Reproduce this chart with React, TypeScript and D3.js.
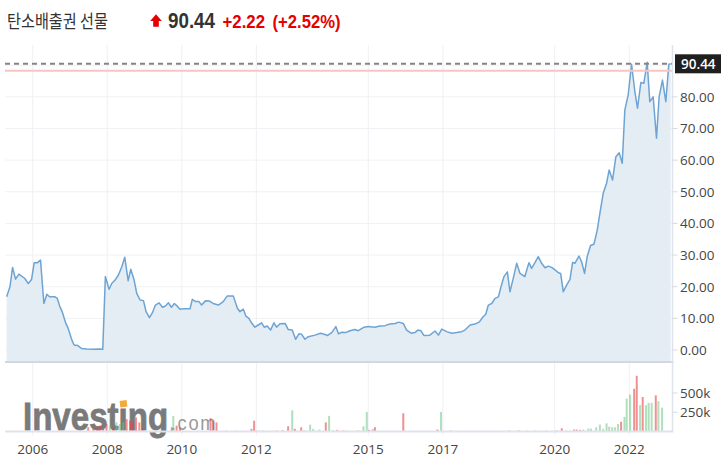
import React from 'react';
import * as d3 from 'd3';

// ---- data ----
const priceYears = [
  2005.30, 2005.39, 2005.46, 2005.54, 2005.63, 2005.79, 2005.88, 2005.97,
  2006.04, 2006.13, 2006.21, 2006.30, 2006.38, 2006.45, 2006.60, 2006.66, 2006.73, 2006.80, 2006.89, 2006.95,
  2007.05, 2007.11, 2007.21, 2007.31, 2007.45, 2007.60, 2007.80, 2007.88, 2007.95,
  2008.05, 2008.12, 2008.21, 2008.30, 2008.39, 2008.47, 2008.56, 2008.63, 2008.72, 2008.79, 2008.88, 2008.97,
  2009.04, 2009.13, 2009.21, 2009.29, 2009.39, 2009.48, 2009.56, 2009.64, 2009.72, 2009.80, 2009.89, 2009.95,
  2010.04, 2010.22, 2010.28, 2010.37, 2010.46, 2010.53, 2010.64, 2010.73, 2010.84, 2010.98,
  2011.11, 2011.22, 2011.38, 2011.49, 2011.56, 2011.65, 2011.72, 2011.80, 2011.87, 2011.96,
  2012.05, 2012.14, 2012.21, 2012.29, 2012.38, 2012.47, 2012.54, 2012.63, 2012.77, 2012.85, 2012.96,
  2013.05, 2013.14, 2013.21, 2013.30, 2013.39, 2013.57, 2013.72, 2013.82, 2013.91,
  2014.02, 2014.13, 2014.20, 2014.29, 2014.39, 2014.51, 2014.64, 2014.73, 2014.89,
  2015.00, 2015.18, 2015.31, 2015.45, 2015.58, 2015.72, 2015.82, 2015.94,
  2016.03, 2016.15, 2016.25, 2016.33, 2016.41, 2016.49, 2016.65, 2016.79, 2016.88, 2016.97,
  2017.10, 2017.24, 2017.37, 2017.50, 2017.59, 2017.73, 2017.86, 2017.98,
  2018.08, 2018.15, 2018.22, 2018.31, 2018.40, 2018.49, 2018.56, 2018.64, 2018.73, 2018.80, 2018.89, 2018.98,
  2019.07, 2019.20, 2019.31, 2019.38, 2019.47, 2019.56, 2019.65, 2019.74, 2019.83, 2019.92,
  2020.01, 2020.10, 2020.16, 2020.23, 2020.32, 2020.41, 2020.48, 2020.54, 2020.65, 2020.72, 2020.80, 2020.87, 2020.96,
  2021.05, 2021.14, 2021.21, 2021.30, 2021.39, 2021.46, 2021.55, 2021.64, 2021.73, 2021.81, 2021.88, 2021.97,
  2022.06, 2022.15, 2022.22, 2022.31, 2022.39, 2022.48, 2022.55, 2022.64, 2022.73, 2022.80, 2022.89, 2022.98,
  2023.06, 2023.11,
];
const priceValues = [
  16.8, 20.0, 26.1, 22.4, 24.0, 22.6, 21.0, 22.3,
  27.6, 27.6, 28.4, 14.7, 17.6, 16.8, 16.8, 16.3, 13.7, 11.8, 8.4, 6.9,
  3.2, 1.6, 1.4, 0.5, 0.3, 0.25, 0.3, 0.2, 23.2,
  19.2, 21.0, 22.1, 23.7, 26.3, 29.3, 21.9, 25.5, 22.1, 17.9, 15.8, 15.6,
  12.1, 10.2, 11.8, 14.2, 14.9, 13.5, 13.9, 14.9, 13.5, 14.7, 13.7, 12.9,
  13.0, 13.0, 16.0, 15.3, 15.3, 14.2, 15.6, 15.5, 14.7, 14.2,
  15.3, 17.1, 17.1, 13.2, 12.1, 12.9, 10.7, 10.0, 8.6, 7.2,
  7.9, 8.6, 7.2, 7.6, 6.3, 8.6, 7.2, 8.3, 8.4, 6.5, 6.3,
  3.4, 5.1, 5.0, 3.4, 4.2, 4.7, 5.3, 5.0, 4.6,
  5.5, 7.4, 5.1, 5.6, 5.5, 6.1, 6.5, 6.1, 7.2,
  7.4, 7.2, 7.6, 7.7, 8.2, 8.4, 8.8, 8.4,
  6.3, 5.3, 5.5, 6.3, 6.1, 4.6, 4.7, 6.0, 4.7, 6.6,
  5.8, 5.3, 5.5, 5.8, 6.3, 7.9, 8.2, 8.9,
  10.5, 11.3, 14.2, 14.7, 16.3, 16.8, 20.0, 23.2, 24.7, 18.4, 22.7, 27.4,
  24.2, 23.2, 27.6, 25.8, 27.6, 29.5, 27.4, 26.0, 26.5, 26.1,
  25.3, 24.4, 24.2, 18.4, 20.5, 22.3, 27.7, 27.4, 29.7, 27.9, 24.2, 29.5, 33.0,
  33.4, 37.9, 43.2, 49.5, 52.7, 56.9, 53.7, 61.1, 62.3, 59.0, 75.8, 80.6,
  90.3, 81.6, 76.4, 84.5, 84.3, 90.9, 78.5, 80.0, 66.9, 80.0, 85.3, 78.5,
  90.3, 90.44,
];

const volYears = [
  2005.53, 2005.68, 2005.79,
  2007.49, 2007.63, 2007.72, 2007.80, 2007.89, 2007.98, 2008.07, 2008.16, 2008.25, 2008.34, 2008.43, 2008.52, 2008.61, 2008.68, 2008.77, 2008.86, 2008.95,
  2009.73, 2009.77, 2009.86, 2009.95,
  2010.77, 2010.84, 2010.93, 2011.20, 2011.45, 2011.87, 2011.94, 2012.02, 2012.18,
  2012.54, 2012.70, 2012.85, 2012.96, 2013.03, 2013.20, 2013.28, 2013.44, 2013.52, 2013.69, 2013.86, 2013.95,
  2014.06, 2014.17, 2014.33, 2014.42, 2014.73, 2014.87, 2014.96, 2015.02, 2015.12, 2015.18, 2015.45,
  2015.94, 2016.21, 2016.85, 2016.95, 2017.21,
  2018.78, 2019.04, 2019.25, 2019.47, 2019.78, 2020.05, 2020.19, 2020.32, 2020.41, 2020.52, 2020.59, 2020.68, 2020.77, 2020.90, 2020.97,
  2021.11, 2021.21, 2021.30, 2021.39, 2021.46, 2021.54, 2021.62, 2021.70, 2021.78, 2021.87, 2021.93,
  2022.02, 2022.13, 2022.20, 2022.29, 2022.36, 2022.45, 2022.52, 2022.60, 2022.71, 2022.78, 2022.88,
];
// volume in thousands
const volValues = [
  5, 5, 5,
  55, 34, 55, 76, 34, 97, 76, 55, 118, 97, 118, 161, 140, 127, 182, 118, 34,
  55, 203, 76, 55,
  174, 140, 118, 13, 13, 34, 140, 13, 13,
  13, 17, 68, 275, 34, 55, 17, 89, 34, 25, 118, 203,
  17, 21, 13, 13, 13, 68, 254, 21, 34, 55, 9,
  237, 9, 25, 254, 13,
  13, 13, 13, 13, 13, 13, 42, 13, 9, 25, 25, 21, 25, 38, 38,
  55, 89, 34, 106, 63, 55, 55, 97, 127, 190, 427,
  478, 554, 723, 343, 448, 343, 372, 372, 470, 393, 309,
];
// 1 = up (green), 0 = down (red)
const volUp = [
  0, 0, 0,
  0, 0, 0, 0, 0, 0, 1, 0, 1, 1, 1, 0, 0, 0, 0, 0, 0,
  0, 1, 0, 0,
  0, 0, 0, 1, 1, 0, 0, 1, 1,
  0, 0, 0, 1, 0, 0, 1, 1, 1, 1, 0, 1,
  1, 0, 0, 1, 0, 1, 1, 0, 1, 0, 1,
  0, 1, 0, 1, 0,
  0, 0, 1, 1, 1, 0, 0, 1, 1, 0, 0, 0, 1, 1, 1,
  1, 1, 1, 1, 1, 1, 1, 1, 0, 1, 1,
  1, 0, 0, 1, 0, 1, 1, 1, 0, 1, 1,
];

const yTicks = [0, 10, 20, 30, 40, 50, 60, 70, 80];
const gridValues = [0, 10, 20, 30, 40, 50, 60, 70, 80, 90];
const volTicks = [250, 500];
const xTickYears = [2006, 2008, 2010, 2012, 2015, 2017, 2020, 2022];

const titleText = '탄소배출권 선물';
const lastPrice = 90.44;
const prevClose = 88.22;
const changeText = '+2.22';
const changePctText = '(+2.52%)';

function toDate(y: number): Date {
  const yr = Math.floor(y);
  const s = new Date(yr, 0, 1).getTime();
  const e = new Date(yr + 1, 0, 1).getTime();
  return new Date(s + (y - yr) * (e - s));
}

const W = 721;
const H = 460;
const plotLeft = 5;
const plotRight = 672.5;
const plotTop = 45;
const mainBottom = 362;
const volBottom = 431.5;

const FONT = "'Open Sans', 'Liberation Sans', sans-serif";

export default function App() {
  const x = d3
    .scaleTime()
    .domain([new Date(2006, 0, 1), new Date(2022, 0, 1)])
    .range([32.7, 629.3]);
  const y = d3.scaleLinear().domain([0, lastPrice]).range([350, 63.8]);
  const yv = d3.scaleLinear().domain([0, 500]).range([volBottom, 393]);

  const pts = priceYears.map((t, i) => ({ d: toDate(t), v: priceValues[i] }));
  const area = d3
    .area<{ d: Date; v: number }>()
    .x((p) => x(p.d))
    .y0(mainBottom)
    .y1((p) => y(p.v));
  const line = d3
    .line<{ d: Date; v: number }>()
    .x((p) => x(p.d))
    .y((p) => y(p.v));

  const vols = volYears.map((t, i) => ({ d: toDate(t), v: volValues[i], up: volUp[i] }));

  return (
    <svg
      width={W}
      height={H}
      style={{ position: 'absolute', left: 0, top: 0, background: '#fff' }}
      xmlns="http://www.w3.org/2000/svg"
    >
      {/* title row */}
      <text x={7} y={28} fontFamily="'Noto Sans CJK KR', sans-serif" fontSize={18} fill="#333" textLength={101} lengthAdjust="spacingAndGlyphs">
        {titleText}
      </text>
      <path d="M156,14.3 L161.8,21 L158.8,21 L158.8,26.7 L153.2,26.7 L153.2,21 L150.2,21 Z" fill="#e50000" />
      <text x={168} y={28} fontFamily="'Liberation Sans', Arial, sans-serif" fontWeight="bold" fontSize={21.5} fill="#333" textLength={47} lengthAdjust="spacingAndGlyphs">
        {lastPrice.toFixed(2)}
      </text>
      <text x={222.5} y={28} fontFamily="'Liberation Sans', Arial, sans-serif" fontWeight="bold" fontSize={17.5} fill="#e50000" textLength={42.5} lengthAdjust="spacingAndGlyphs">
        {changeText}
      </text>
      <text x={272.5} y={28} fontFamily="'Liberation Sans', Arial, sans-serif" fontWeight="bold" fontSize={17.5} fill="#e50000" textLength={68} lengthAdjust="spacingAndGlyphs">
        {changePctText}
      </text>

      {/* horizontal grid */}
      {gridValues.map((v) => (
        <line key={'hg' + v} x1={plotLeft} x2={plotRight} y1={y(v)} y2={y(v)} stroke="#f0f1f4" strokeWidth={1} />
      ))}
      {/* vertical grid */}
      {xTickYears.map((yr) => (
        <line key={'vg' + yr} x1={x(new Date(yr, 0, 1))} x2={x(new Date(yr, 0, 1))} y1={plotTop} y2={volBottom + 4} stroke="#eef0f4" strokeWidth={1} />
      ))}

      {/* area + line */}
      <path d={area(pts) || ''} fill="#e4edf4" />
      <path d={line(pts) || ''} fill="none" stroke="#6ea4d3" strokeWidth={1.5} strokeLinejoin="round" />

      {/* prev close + last price lines */}
      <line x1={plotLeft} x2={plotRight} y1={y(prevClose)} y2={y(prevClose)} stroke="#f8c4c4" strokeWidth={2} />
      <line x1={plotLeft} x2={plotRight} y1={y(lastPrice)} y2={y(lastPrice)} stroke="#858585" strokeWidth={2} strokeDasharray="5,4" />

      {/* watermark: one text, horizontally condensed */}
      <text transform="translate(23,430) scale(0.87,1)" fontFamily="'Liberation Sans', Arial, sans-serif">
        <tspan fontWeight="bold" fontSize={38} fill="#7a7a7a" stroke="#7a7a7a" strokeWidth={0.8}>Investing</tspan>
        <tspan fontSize={21} fill="#9a9a9a" letterSpacing={2} dx={3}>.com</tspan>
      </text>
      <rect x={120} y={400.5} width={7} height={6.5} fill="#f6a93b" transform="rotate(-8 123.5 403.7)" />

      {/* volume bars */}
      {vols.map((b, i) => (
        <rect
          key={'vb' + i}
          x={x(b.d) - 1}
          width={2}
          y={yv(b.v)}
          height={volBottom - yv(b.v)}
          fill={b.up ? 'rgba(110,196,132,0.55)' : 'rgba(230,70,70,0.6)'}
        />
      ))}

      {/* panel borders */}
      <line x1={plotLeft} x2={plotRight + 1} y1={mainBottom} y2={mainBottom} stroke="#d3d7de" strokeWidth={2} />
      <line x1={plotLeft} x2={plotRight + 1} y1={volBottom} y2={volBottom} stroke="#e2e2ef" strokeWidth={2} />
      <line x1={plotRight} x2={plotRight} y1={plotTop} y2={volBottom} stroke="#dfe3ea" strokeWidth={1.5} />

      {/* right axis */}
      {yTicks.map((v) => (
        <g key={'yt' + v}>
          <line x1={plotRight} x2={plotRight + 5} y1={y(v)} y2={y(v)} stroke="#d6dae0" />
          <text x={680} y={y(v) + 4.8} fontFamily={FONT} fontSize={13.5} fill="#454545">
            {v.toFixed(2)}
          </text>
        </g>
      ))}
      {volTicks.map((v) => (
        <g key={'vt' + v}>
          <line x1={plotRight} x2={plotRight + 5} y1={yv(v)} y2={yv(v)} stroke="#d6dae0" />
          <text x={680} y={yv(v) + 4.8} fontFamily={FONT} fontSize={13.5} fill="#454545">
            {v + 'k'}
          </text>
        </g>
      ))}

      {/* last price box */}
      <rect x={675} y={y(lastPrice) - 9.5} width={46} height={19} fill="#1f1f1f" />
      <text x={681} y={y(lastPrice) + 4.8} fontFamily={FONT} fontSize={13.5} fontWeight={600} fill="#fff">
        {lastPrice.toFixed(2)}
      </text>

      {/* x axis labels */}
      {xTickYears.map((yr) => (
        <text key={'xt' + yr} x={x(new Date(yr, 0, 1))} y={454} textAnchor="middle" fontFamily={FONT} fontSize={13.5} fill="#454545">
          {yr}
        </text>
      ))}
    </svg>
  );
}
